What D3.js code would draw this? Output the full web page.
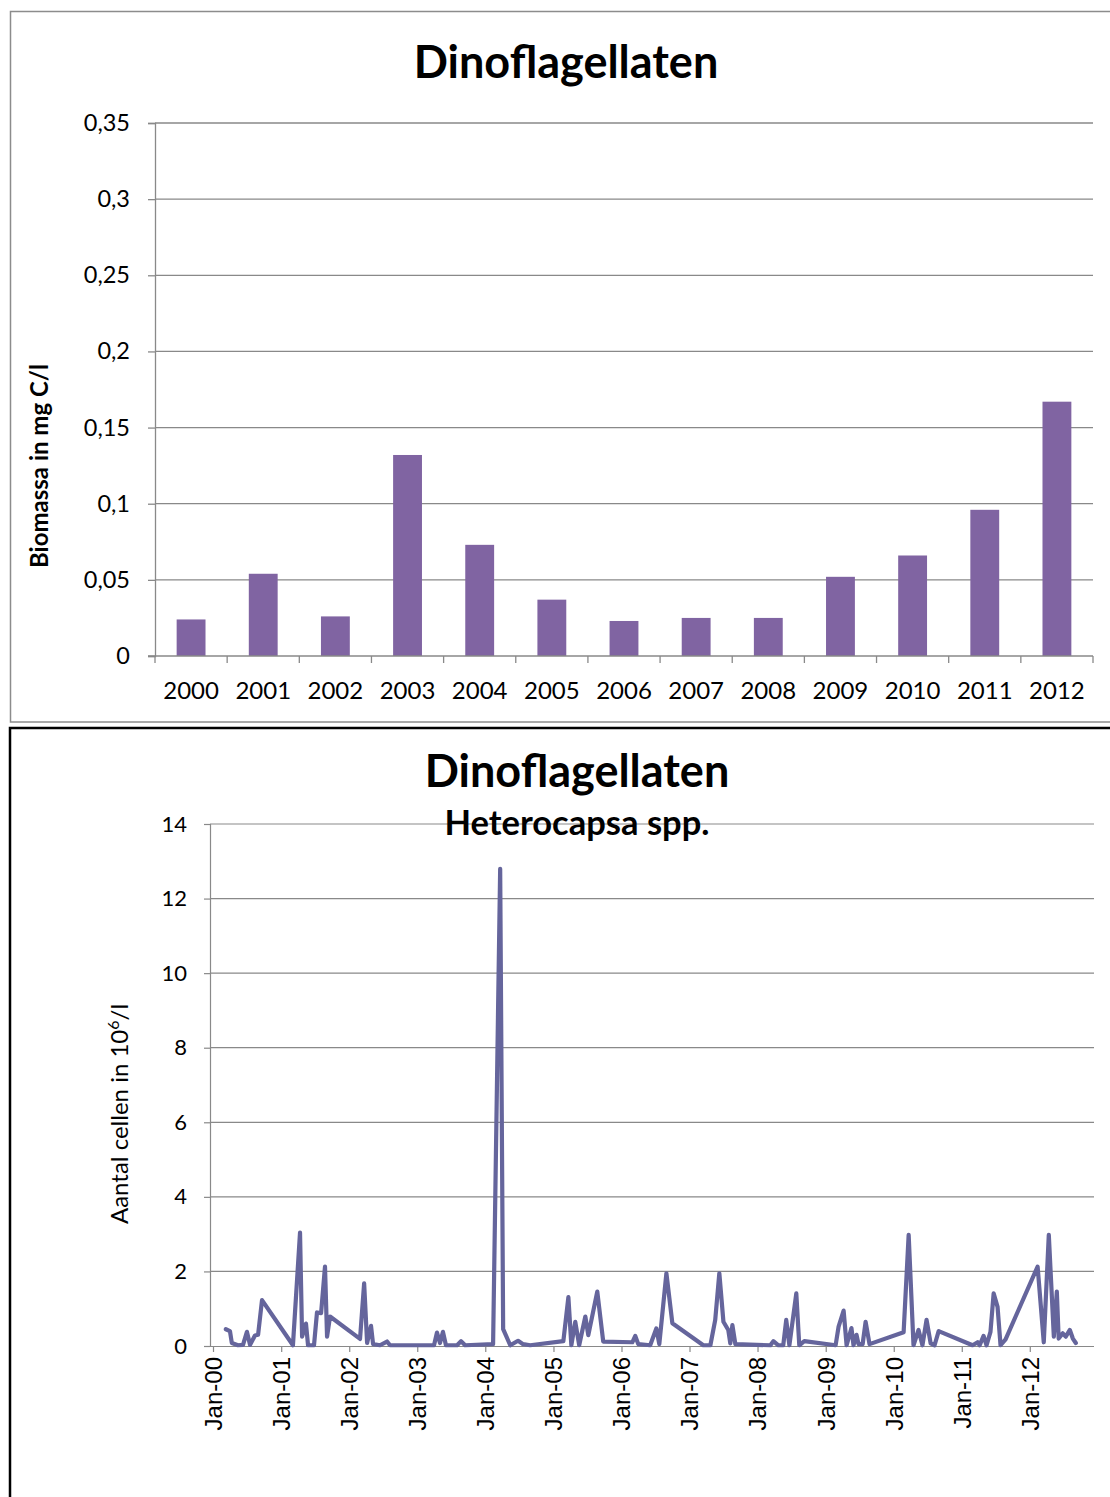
<!DOCTYPE html>
<html>
<head>
<meta charset="utf-8">
<script src="https://cdn.jsdelivr.net/npm/d3@7"></script>
<style>
  html, body { margin: 0; padding: 0; background: #fff; }
  svg { display: block; }
  .calib { font-family: Lato, "Open Sans", sans-serif; }
  .arial { font-family: "Liberation Sans", Arial, sans-serif; }
</style>
</head>
<body>
<script>
// Annual mean dinoflagellate biomass (mg C/l)
const years = ["2000","2001","2002","2003","2004","2005","2006","2007","2008","2009","2010","2011","2012"];
const biomass = [0.024, 0.054, 0.026, 0.132, 0.073, 0.037, 0.023, 0.025, 0.025, 0.052, 0.066, 0.096, 0.167];
const biomassTicks = [0, 0.05, 0.1, 0.15, 0.2, 0.25, 0.3, 0.35];

// Heterocapsa spp. cell counts (10^6/l) per sampling date
const sampleDates = [
  "2000-03-10","2000-04-01","2000-04-11","2000-05-14","2000-06-10","2000-07-01","2000-07-18","2000-08-13","2000-08-30","2000-09-20",
  "2001-03-05","2001-04-12","2001-04-23","2001-05-14","2001-05-25","2001-06-26","2001-07-12","2001-08-03","2001-08-24","2001-09-04","2001-09-20",
  "2002-02-28","2002-03-22","2002-04-07","2002-04-28","2002-05-09","2002-06-15","2002-07-23","2002-08-08",
  "2003-04-01","2003-04-17","2003-05-03","2003-05-19","2003-06-04","2003-08-03","2003-08-24","2003-09-15",
  "2004-02-12","2004-03-21","2004-04-06","2004-05-14","2004-06-25","2004-07-22","2004-08-29",
  "2005-02-23","2005-03-22","2005-04-07","2005-04-28","2005-05-19","2005-06-21","2005-07-07","2005-08-24","2005-09-25",
  "2006-02-28","2006-03-16","2006-04-01","2006-06-04","2006-07-07","2006-07-23","2006-08-30","2006-10-01",
  "2007-03-16","2007-04-23","2007-05-19","2007-06-10","2007-07-02","2007-07-28","2007-08-08","2007-08-19","2007-09-04",
  "2008-03-10","2008-03-26","2008-04-22","2008-05-18","2008-06-03","2008-06-20","2008-07-27","2008-08-12","2008-09-08",
  "2009-02-23","2009-03-11","2009-04-07","2009-04-23","2009-05-19","2009-05-30","2009-06-15","2009-06-26","2009-07-18","2009-08-03","2009-08-24",
  "2010-02-23","2010-03-22","2010-04-17","2010-05-14","2010-06-04","2010-06-26","2010-07-18","2010-08-08","2010-08-30",
  "2011-02-28","2011-03-27","2011-04-07","2011-04-28","2011-05-14","2011-06-04","2011-06-21","2011-07-12","2011-07-28","2011-08-24",
  "2012-02-12","2012-03-16","2012-04-12","2012-05-09","2012-05-25","2012-06-04","2012-06-26","2012-07-12","2012-08-03","2012-08-19","2012-09-04"
];
const cellCounts = [
  0.45, 0.40, 0.08, 0.02, 0.03, 0.38, 0.03, 0.28, 0.30, 1.23,
  0.02, 3.04, 0.25, 0.60, 0.02, 0.02, 0.90, 0.88, 2.13, 0.25, 0.79,
  0.19, 1.68, 0.08, 0.54, 0.05, 0.02, 0.12, 0.02,
  0.02, 0.36, 0.08, 0.38, 0.02, 0.02, 0.13, 0.02,
  0.05, 12.8, 0.45, 0.02, 0.14, 0.05, 0.02,
  0.13, 1.31, 0.02, 0.65, 0.02, 0.79, 0.29, 1.46, 0.12,
  0.10, 0.27, 0.05, 0.02, 0.47, 0.05, 1.95, 0.61,
  0.02, 0.02, 0.70, 1.95, 0.65, 0.43, 0.07, 0.56, 0.05,
  0.02, 0.13, 0.02, 0.02, 0.70, 0.02, 1.41, 0.02, 0.13,
  0.02, 0.52, 0.95, 0.02, 0.48, 0.02, 0.30, 0.05, 0.05, 0.65, 0.05,
  0.37, 2.98, 0.02, 0.43, 0.02, 0.70, 0.07, 0.02, 0.40,
  0.02, 0.10, 0.02, 0.27, 0.02, 0.38, 1.41, 1.05, 0.02, 0.18,
  2.13, 0.10, 2.98, 0.25, 1.46, 0.20, 0.34, 0.25, 0.43, 0.20, 0.08
];
const countTicks = [0, 2, 4, 6, 8, 10, 12, 14];

const W = 1110, H = 1497;
const gridColor = "#898989";

const svg = d3.select("body").append("svg")
  .attr("width", W).attr("height", H);

// ---------- Chart 1: annual biomass bars ----------
svg.append("rect")
  .attr("x", 10.5).attr("y", 11.5).attr("width", 1120).attr("height", 710.5)
  .attr("fill", "none").attr("stroke", "#8c8c8c").attr("stroke-width", 1.5);

const p1 = { left: 155, right: 1093, top: 123, bottom: 656 };

const x1 = d3.scaleBand().domain(years).range([p1.left, p1.right]).paddingInner(0.6).paddingOuter(0.3);
const y1 = d3.scaleLinear().domain([0, 0.35]).range([p1.bottom, p1.top]);

const g1 = svg.append("g");

// horizontal gridlines
g1.append("g").selectAll("line").data(biomassTicks.filter(d => d > 0)).join("line")
  .attr("x1", p1.left).attr("x2", p1.right)
  .attr("y1", d => y1(d)).attr("y2", d => y1(d))
  .attr("stroke", gridColor).attr("stroke-width", 1.3);

// y axis
const yAxis1 = g1.append("g").attr("transform", `translate(${p1.left},0)`)
  .call(d3.axisLeft(y1).tickValues(biomassTicks).tickSize(7).tickPadding(18)
    .tickFormat(d => d3.format("")(d).replace(".", ",")));
yAxis1.select(".domain").attr("stroke", gridColor).attr("stroke-width", 1.3);
yAxis1.selectAll(".tick line").attr("stroke", gridColor).attr("stroke-width", 1.3);
yAxis1.selectAll("text").attr("class", "calib").attr("font-size", 23.5).attr("fill", "#000");

// bars
g1.append("g").selectAll("rect").data(biomass).join("rect")
  .attr("x", (d, i) => x1(years[i]))
  .attr("width", x1.bandwidth())
  .attr("y", d => y1(d))
  .attr("height", d => y1(0) - y1(d))
  .attr("fill", "#8064a2");

// x axis with ticks at category boundaries
const xAxis1 = g1.append("g").attr("transform", `translate(0,${p1.bottom})`);
xAxis1.append("line")
  .attr("x1", p1.left - 7).attr("x2", p1.right)
  .attr("stroke", gridColor).attr("stroke-width", 1.3);
const step1 = x1.step();
xAxis1.selectAll("line.bt").data(d3.range(years.length + 1)).join("line")
  .attr("class", "bt")
  .attr("x1", i => p1.left + i * step1).attr("x2", i => p1.left + i * step1)
  .attr("y1", 0).attr("y2", 7)
  .attr("stroke", gridColor).attr("stroke-width", 1.3);
xAxis1.selectAll("text").data(years).join("text")
  .attr("class", "calib")
  .attr("x", d => x1(d) + x1.bandwidth() / 2)
  .attr("y", 43)
  .attr("text-anchor", "middle")
  .attr("font-size", 24)
  .text(d => d);

svg.append("text").attr("class", "calib")
  .attr("x", 566).attr("y", 78)
  .attr("text-anchor", "middle").attr("font-size", 45).attr("font-weight", "bold")
  .text("Dinoflagellaten");

svg.append("text").attr("class", "calib")
  .attr("transform", "translate(48,466) rotate(-90)")
  .attr("text-anchor", "middle").attr("font-size", 24).attr("font-weight", "bold")
  .text("Biomassa in mg C/l");

// ---------- Chart 2: Heterocapsa time series ----------
svg.append("rect")
  .attr("x", 10).attr("y", 728).attr("width", 1120).attr("height", 800)
  .attr("fill", "none").attr("stroke", "#000").attr("stroke-width", 2.5);

const p2 = { left: 210, right: 1094, top: 824, bottom: 1346 };
const parseDate = d3.timeParse("%Y-%m-%d");
const series = sampleDates.map((d, i) => ({ date: parseDate(d), value: cellCounts[i] }));

const x2 = d3.scaleTime()
  .domain([new Date(2000, 0, 1), new Date(2013, 0, 1)])
  .range([213, 1098]);
const y2 = d3.scaleLinear().domain([0, 14]).range([p2.bottom, p2.top]);

const g2 = svg.append("g");

g2.append("g").selectAll("line").data(countTicks.filter(d => d > 0)).join("line")
  .attr("x1", p2.left).attr("x2", p2.right)
  .attr("y1", d => y2(d)).attr("y2", d => y2(d))
  .attr("stroke", gridColor).attr("stroke-width", 1.2);

const yAxis2 = g2.append("g").attr("transform", `translate(${p2.left},0)`)
  .call(d3.axisLeft(y2).tickValues(countTicks).tickSize(6).tickPadding(17).tickFormat(d3.format("d")));
yAxis2.select(".domain").attr("stroke", gridColor).attr("stroke-width", 1.2);
yAxis2.selectAll(".tick line").attr("stroke", gridColor).attr("stroke-width", 1.2);
yAxis2.selectAll("text").attr("class", "calib").attr("font-size", 22).attr("fill", "#000");

const yearTicks = d3.range(2000, 2013).map(y => new Date(y, 0, 1));
const xAxis2 = g2.append("g").attr("transform", `translate(0,${p2.bottom})`)
  .call(d3.axisBottom(x2).tickValues(yearTicks).tickSize(6).tickSizeOuter(0).tickFormat(d3.timeFormat("%b-%y")));
xAxis2.select(".domain").attr("stroke", gridColor).attr("stroke-width", 1.2)
  .attr("d", `M${p2.left},0.5H${p2.right}`);
xAxis2.selectAll(".tick line").attr("stroke", gridColor).attr("stroke-width", 1.2);
xAxis2.selectAll("text")
  .attr("class", "arial").attr("font-size", 24).attr("fill", "#000")
  .attr("text-anchor", "end")
  .attr("dy", "0.35em").attr("y", 0)
  .attr("transform", "translate(0,11) rotate(-90)");

const line = d3.line().x(d => x2(d.date)).y(d => y2(d.value));
g2.append("path").datum(series)
  .attr("d", line)
  .attr("fill", "none")
  .attr("stroke", "#65659c")
  .attr("stroke-width", 4.2)
  .attr("stroke-linejoin", "round")
  .attr("stroke-linecap", "round");

svg.append("text").attr("class", "calib")
  .attr("x", 577).attr("y", 787)
  .attr("text-anchor", "middle").attr("font-size", 45).attr("font-weight", "bold")
  .text("Dinoflagellaten");
svg.append("text").attr("class", "calib")
  .attr("x", 577).attr("y", 835)
  .attr("text-anchor", "middle").attr("font-size", 34.5).attr("font-weight", "bold")
  .text("Heterocapsa spp.");

const yt = svg.append("text").attr("class", "calib")
  .attr("transform", "translate(128,1114) rotate(-90)")
  .attr("text-anchor", "middle").attr("font-size", 24);
yt.append("tspan").text("Aantal cellen in 10");
yt.append("tspan").attr("dy", -9).attr("font-size", 16).text("6");
yt.append("tspan").attr("dy", 9).text("/l");
</script>
</body>
</html>
